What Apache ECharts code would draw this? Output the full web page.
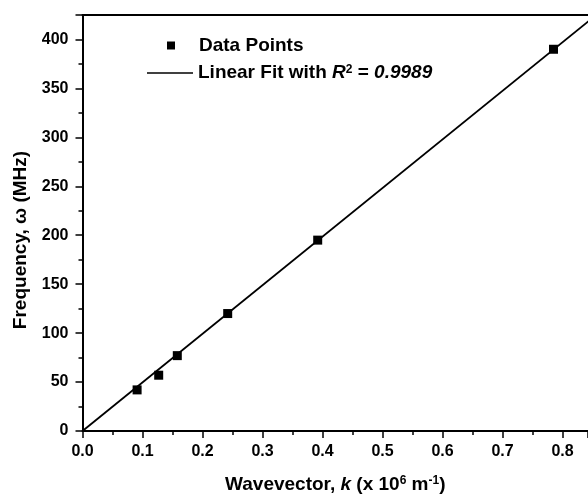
<!DOCTYPE html>
<html>
<head>
<meta charset="utf-8">
<script src="https://cdn.jsdelivr.net/npm/echarts@6/dist/echarts.min.js"></script>
<style>
  html, body { margin: 0; padding: 0; background: #fff; }
  #chart { width: 588px; height: 497px; }
</style>
</head>
<body>
<div id="chart"></div>
<script>
// measured points, k in 1e6 m^-1, omega in MHz
const kValues = [0.091, 0.127, 0.158, 0.242, 0.392, 0.785];
const omegaValues = [42, 57, 77, 120, 195, 390];
// fit line end points
const fitK = [0, 0.85];
const fitOmega = [0, 422];

const font = 'Liberation Sans, Arial, sans-serif';
const chartDom = document.getElementById('chart');
const myChart = echarts.init(chartDom, null, { renderer: 'canvas' });

const richText = {
    a: { fontFamily: font, fontWeight: 'bold', fontSize: 19, color: '#000' },
    i: { fontFamily: font, fontWeight: 'bold', fontStyle: 'italic', fontSize: 19, color: '#000' },
    s: { fontFamily: font, fontWeight: 'bold', fontSize: 12, color: '#000', verticalAlign: 'top' }
};

const option = {
    animation: false,
    backgroundColor: '#fff',
    grid: { left: 82.5, top: 15, right: 0, bottom: 66, containLabel: false, outerBoundsMode: 'none' },
    legend: [
        {
            data: ['Data Points'],
            left: 167, top: 36, padding: 0,
            icon: 'rect', itemWidth: 8, itemHeight: 8,
            itemStyle: { color: '#000', opacity: 1 },
            textStyle: { fontFamily: font, fontWeight: 'bold', fontSize: 19, color: '#000', padding: [0, 0, 0, 19] }
        },
        {
            data: ['Linear Fit'],
            left: 147, top: 63.5, padding: 0,
            icon: 'rect', itemWidth: 46, itemHeight: 1.6,
            formatter: () => '{a|Linear Fit with }{i|R}{s|2}{a| = }{i|0.9989}',
            textStyle: { fontFamily: font, fontWeight: 'bold', fontSize: 19, color: '#000', rich: richText }
        }
    ],
    xAxis: [
        {
            type: 'value', min: 0, max: 0.8425, interval: 0.1,
            name: '{a|Wavevector, }{i|k}{a| (x 10}{s|6}{a| m}{s|-1}{a|)}',
            nameLocation: 'middle', nameGap: 44,
            nameTextStyle: { rich: richText },
            axisLine: { onZero: false, lineStyle: { color: '#000', width: 2 } },
            axisTick: { inside: false, length: 7, lineStyle: { color: '#000', width: 1.5 } },
            minorTick: { show: true, splitNumber: 2, length: 4, lineStyle: { color: '#000', width: 1.5 } },
            splitLine: { show: false },
            axisLabel: {
                margin: 13, color: '#000', fontFamily: font, fontWeight: 'bold', fontSize: 16,
                showMaxLabel: false,
                formatter: v => v.toFixed(1)
            }
        },
        {
            type: 'value', position: 'top', min: 0, max: 0.8425,
            axisLine: { onZero: false, lineStyle: { color: '#000', width: 2 } },
            axisTick: { show: false }, axisLabel: { show: false }, splitLine: { show: false }
        }
    ],
    yAxis: {
        type: 'value', min: 0, max: 425, interval: 50,
        name: 'Frequency, ω (MHz)',
        nameLocation: 'middle', nameGap: 52,
        nameTextStyle: { fontFamily: font, fontWeight: 'bold', fontSize: 19, color: '#000', padding: [0, 34, 0, 0] },
        axisLine: { onZero: false, lineStyle: { color: '#000', width: 2 } },
        axisTick: { inside: false, length: 7, lineStyle: { color: '#000', width: 1.5 } },
        minorTick: { show: true, splitNumber: 2, length: 4, lineStyle: { color: '#000', width: 1.5 } },
        splitLine: { show: false },
        axisLabel: {
            margin: 14, color: '#000', fontFamily: font, fontWeight: 'bold', fontSize: 16,
            showMaxLabel: false
        }
    },
    series: [
        {
            name: 'Linear Fit',
            type: 'line',
            symbol: 'none',
            clip: true,
            lineStyle: { color: '#000', width: 1.8 },
            itemStyle: { color: '#000' },
            data: fitK.map((k, i) => [k, fitOmega[i]]),
            z: 2
        },
        {
            name: 'Data Points',
            type: 'scatter',
            symbol: 'rect',
            symbolSize: 9,
            itemStyle: { color: '#000', opacity: 1 },
            data: kValues.map((k, i) => [k, omegaValues[i]]),
            z: 3
        }
    ]
};

myChart.setOption(option);
window.addEventListener('resize', myChart.resize);
</script>
</body>
</html>
